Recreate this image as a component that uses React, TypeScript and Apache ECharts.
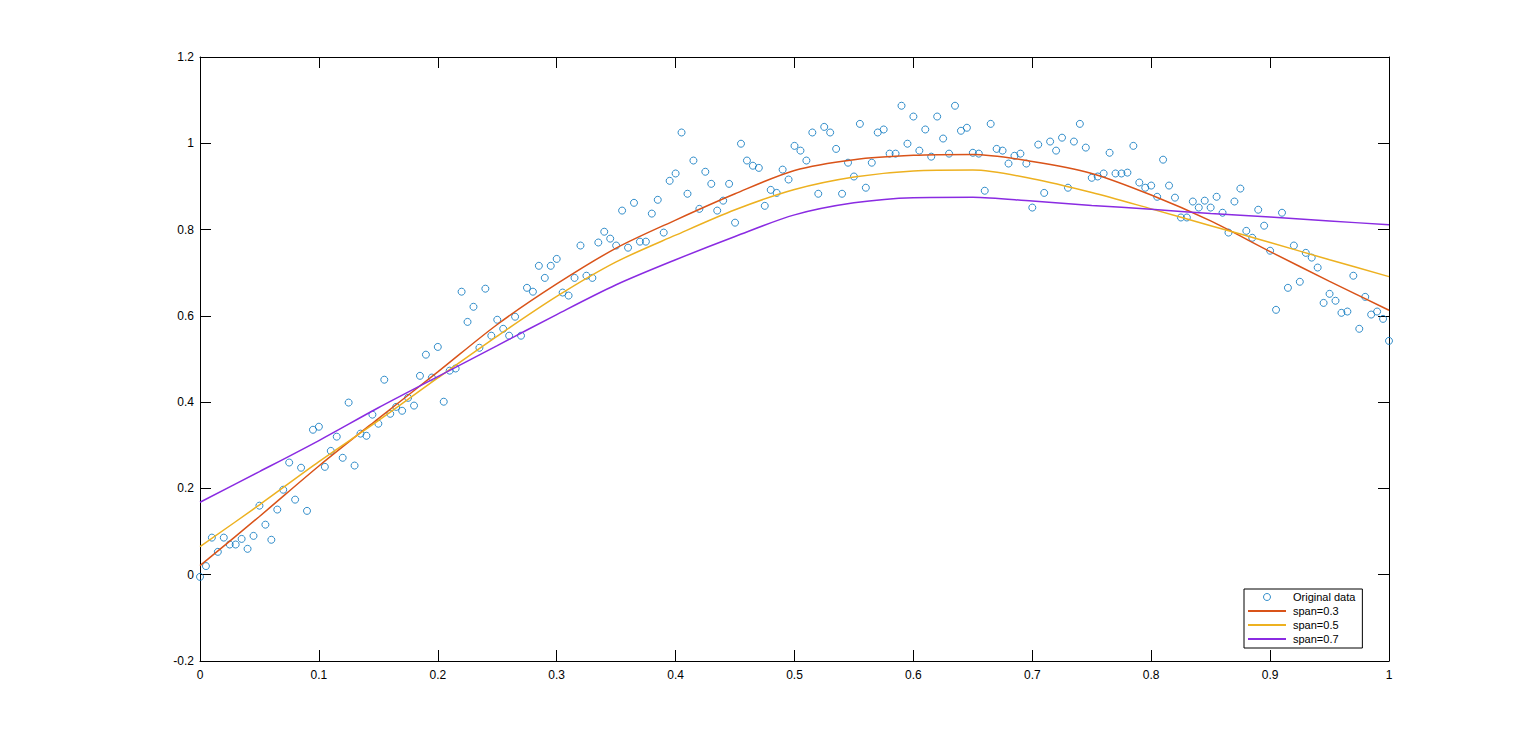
import React, { useEffect, useRef } from "react";
import * as echarts from "echarts";

// Original data: y values sampled at x = 0, 0.005, ..., 1
const xStep = 0.005;
const dataY = [
  -0.005, 0.02, 0.086, 0.053, 0.086, 0.07, 0.07, 0.083, 0.06, 0.09,
  0.16, 0.116, 0.081, 0.151, 0.197, 0.26, 0.174, 0.248, 0.148, 0.336,
  0.343, 0.25, 0.287, 0.32, 0.271, 0.399, 0.253, 0.327, 0.322, 0.371,
  0.35, 0.452, 0.373, 0.389, 0.38, 0.41, 0.392, 0.461, 0.51, 0.457,
  0.528, 0.401, 0.473, 0.478, 0.656, 0.586, 0.621, 0.526, 0.663, 0.554,
  0.591, 0.57, 0.554, 0.598, 0.554, 0.665, 0.656, 0.716, 0.688, 0.716,
  0.732, 0.654, 0.647, 0.688, 0.763, 0.693, 0.688, 0.77, 0.795, 0.779,
  0.763, 0.844, 0.758, 0.862, 0.772, 0.772, 0.837, 0.869, 0.793, 0.913,
  0.93, 1.025, 0.883, 0.96, 0.848, 0.934, 0.906, 0.844, 0.867, 0.906,
  0.816, 0.999, 0.96, 0.948, 0.943, 0.855, 0.892, 0.885, 0.939, 0.916,
  0.994, 0.983, 0.96, 1.025, 0.883, 1.038, 1.025, 0.987, 0.883, 0.955,
  0.923, 1.045, 0.897, 0.955, 1.025, 1.032, 0.976, 0.976, 1.087, 0.999,
  1.062, 0.983, 1.032, 0.969, 1.062, 1.011, 0.976, 1.087, 1.029, 1.036,
  0.978, 0.976, 0.89, 1.045, 0.987, 0.983, 0.953, 0.971, 0.976, 0.953,
  0.851, 0.997, 0.885, 1.004, 0.983, 1.013, 0.897, 1.004, 1.045, 0.99,
  0.92, 0.923, 0.93, 0.978, 0.93, 0.93, 0.932, 0.994, 0.909, 0.897,
  0.902, 0.876, 0.962, 0.902, 0.874, 0.828, 0.828, 0.865, 0.851, 0.867,
  0.851, 0.876, 0.839, 0.793, 0.865, 0.895, 0.797, 0.781, 0.846, 0.809,
  0.751, 0.614, 0.839, 0.665, 0.763, 0.679, 0.746, 0.735, 0.712, 0.63,
  0.651, 0.635, 0.607, 0.61, 0.693, 0.57, 0.644, 0.603, 0.61, 0.593,
  0.542,
];

// Smoothed curves read at x = 0, 0.05, ..., 1
const curveX = [0, 0.05, 0.1, 0.15, 0.2, 0.25, 0.3, 0.35, 0.4, 0.45, 0.5, 0.55, 0.6, 0.65, 0.7, 0.75, 0.8, 0.85, 0.9, 0.95, 1];
const span03 = [0.021, 0.135, 0.252, 0.362, 0.47, 0.58, 0.674, 0.757, 0.822, 0.883, 0.937, 0.962, 0.972, 0.974, 0.958, 0.93, 0.88, 0.82, 0.749, 0.68, 0.613];
const span05 = [0.065, 0.162, 0.262, 0.357, 0.456, 0.553, 0.645, 0.725, 0.787, 0.846, 0.893, 0.922, 0.936, 0.938, 0.918, 0.886, 0.848, 0.809, 0.77, 0.73, 0.691];
const span07 = [0.168, 0.239, 0.311, 0.387, 0.459, 0.531, 0.603, 0.672, 0.73, 0.784, 0.834, 0.862, 0.874, 0.875, 0.866, 0.856, 0.847, 0.837, 0.829, 0.82, 0.811];

const seriesNames = ["Original data", "span=0.3", "span=0.5", "span=0.7"];

export default function App() {
  const ref = useRef<HTMLDivElement>(null);
  useEffect(() => {
    if (!ref.current) return;
    const chart = echarts.init(ref.current, undefined, { renderer: "svg" });
    const font = "'Liberation Sans', Arial, Helvetica, sans-serif";
    const pts = dataY.map((y, i) => [+(i * xStep).toFixed(3), y]);
    const pair = (ys: number[]) => curveX.map((x, i) => [x, ys[i]]);
    const fmt = (v: number) => String(Number(v.toFixed(1)));
    const axisLine = { show: true, onZero: false, lineStyle: { color: "#000", width: 1 } };
    const tick = { show: true, inside: true, length: 11, lineStyle: { color: "#000", width: 1 } };
    const label = { color: "#000", fontSize: 12, fontFamily: font, formatter: fmt };
    const hiddenDot = { color: "rgba(0,0,0,0)", borderColor: "rgba(0,0,0,0)", borderWidth: 0, opacity: 0 };
    chart.setOption({
      animation: false,
      backgroundColor: "#fff",
      grid: { left: 200, right: 147, top: 57, bottom: 83, containLabel: false },
      xAxis: [
        { type: "value", min: 0, max: 1, interval: 0.1, position: "bottom", axisLine, axisTick: tick,
          axisLabel: { ...label, margin: 8 }, splitLine: { show: false } },
        { type: "value", min: 0, max: 1, interval: 0.1, position: "top", axisLine, axisTick: tick,
          axisLabel: { show: false }, splitLine: { show: false } },
      ],
      yAxis: [
        { type: "value", min: -0.2, max: 1.2, interval: 0.2, position: "left", axisLine, axisTick: tick,
          axisLabel: { ...label, margin: 6 }, splitLine: { show: false } },
        { type: "value", min: -0.2, max: 1.2, interval: 0.2, position: "right", axisLine, axisTick: tick,
          axisLabel: { show: false }, splitLine: { show: false } },
      ],
      legend: {
        orient: "vertical",
        left: 1244,
        top: 589,
        data: [
          { name: seriesNames[0], itemStyle: { color: "rgba(0,0,0,0)", borderColor: "#0072BD", borderWidth: 1 } },
          { name: seriesNames[1], itemStyle: hiddenDot },
          { name: seriesNames[2], itemStyle: hiddenDot },
          { name: seriesNames[3], itemStyle: hiddenDot },
        ],
        itemWidth: 38,
        itemHeight: 7,
        itemGap: 0,
        padding: [1, 7, 2, 3],
        borderColor: "#000",
        borderWidth: 1,
        backgroundColor: "#fff",
        textStyle: { color: "#000", fontSize: 11, fontFamily: font, lineHeight: 14, padding: [0, 0, 0, 2] },
        selectedMode: false,
      },
      series: [
        { name: seriesNames[0], type: "scatter", data: pts, symbol: "circle", symbolSize: 7,
          itemStyle: { color: "rgba(0,0,0,0)", borderColor: "#0072BD", borderWidth: 1 } },
        { name: seriesNames[1], type: "line", data: pair(span03), symbol: "none", smooth: 0.3,
          lineStyle: { color: "#D95319", width: 1.5 }, itemStyle: { color: "#D95319" } },
        { name: seriesNames[2], type: "line", data: pair(span05), symbol: "none", smooth: 0.3,
          lineStyle: { color: "#EDB120", width: 1.5 }, itemStyle: { color: "#EDB120" } },
        { name: seriesNames[3], type: "line", data: pair(span07), symbol: "none", smooth: 0.3,
          lineStyle: { color: "#8A2BE2", width: 1.5 }, itemStyle: { color: "#8A2BE2" } },
      ],
    });
    return () => chart.dispose();
  }, []);
  return <div ref={ref} style={{ position: "fixed", left: 0, top: 0, width: 1536, height: 744 }} />;
}
